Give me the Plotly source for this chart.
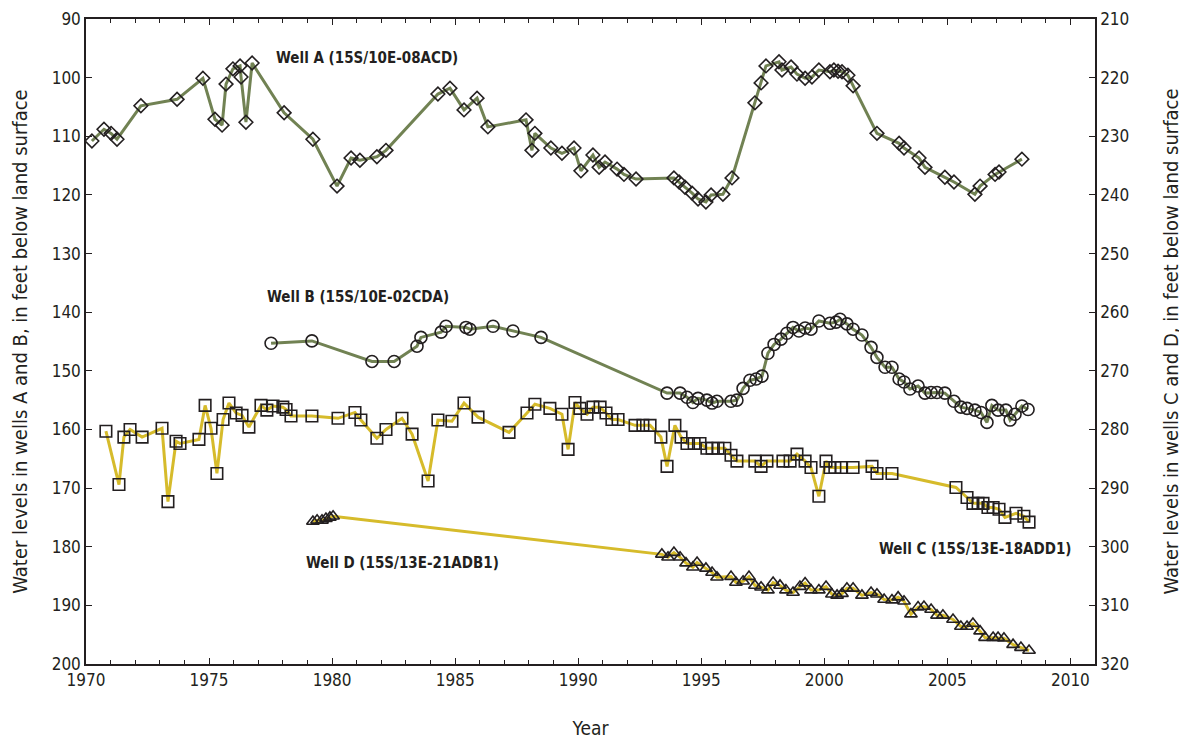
import plotly.graph_objects as go

# ---------------- Data ----------------
# Well A (left axis, ft below land surface)
well_a_year = [1970.24, 1970.73, 1971.02, 1971.26, 1972.23, 1973.70, 1974.75, 1975.24, 1975.53, 1975.69,
               1975.97, 1976.26, 1976.30, 1976.50, 1976.75, 1978.05, 1979.22, 1980.20, 1980.77, 1981.13,
               1981.82, 1982.19, 1984.30, 1984.79, 1985.36, 1985.89, 1986.33, 1987.88, 1988.12, 1988.24,
               1988.89, 1989.34, 1989.83, 1990.11, 1990.60, 1990.85, 1991.09, 1991.58, 1991.86, 1992.35,
               1993.89, 1994.10, 1994.34, 1994.63, 1994.87, 1995.19, 1995.40, 1995.88, 1996.25, 1997.18,
               1997.43, 1997.63, 1998.16, 1998.28, 1998.65, 1998.89, 1999.22, 1999.50, 1999.78, 2000.23,
               2000.39, 2000.56, 2000.72, 2000.96, 2001.17, 2002.14, 2003.04, 2003.24, 2003.85, 2004.09,
               2004.90, 2005.27, 2006.12, 2006.33, 2006.94, 2007.10, 2008.03]
well_a_level = [110.8, 108.8, 109.5, 110.5, 104.8, 103.7, 100.1, 107.1, 108.1, 101.1,
                98.5, 98.0, 99.9, 107.6, 97.5, 106.0, 110.5, 118.5, 113.7, 114.1,
                113.5, 112.4, 102.8, 101.8, 105.5, 103.5, 108.4, 107.2, 112.4, 109.5,
                112.0, 112.9, 112.0, 115.9, 113.2, 115.3, 114.4, 115.6, 116.5, 117.3,
                117.1, 117.8, 118.7, 119.7, 120.7, 121.2, 120.0, 119.9, 117.1, 104.3,
                100.9, 98.0, 97.3, 98.7, 98.2, 99.4, 100.1, 99.9, 98.7, 99.0,
                98.7, 98.9, 99.0, 99.6, 101.4, 109.5, 111.2, 112.0, 113.7, 115.3,
                117.0, 117.8, 119.9, 118.5, 116.5, 116.1, 113.9]

# Well B (left axis)
well_b_year = [1977.52, 1979.18, 1981.62, 1982.52, 1983.45, 1983.61, 1984.43, 1984.63, 1985.44, 1985.60,
               1986.54, 1987.35, 1988.49, 1993.61, 1994.14, 1994.42, 1994.66, 1994.87, 1995.23, 1995.44,
               1995.64, 1996.21, 1996.45, 1996.70, 1996.98, 1997.23, 1997.47, 1997.71, 1997.96, 1998.24,
               1998.48, 1998.73, 1998.97, 1999.22, 1999.46, 1999.78, 2000.23, 2000.48, 2000.64, 2000.92,
               2001.17, 2001.53, 2001.90, 2002.14, 2002.47, 2002.75, 2003.04, 2003.24, 2003.48, 2003.81,
               2004.09, 2004.34, 2004.58, 2004.90, 2005.27, 2005.55, 2005.80, 2006.12, 2006.37, 2006.61,
               2006.81, 2007.06, 2007.38, 2007.55, 2007.75, 2008.03, 2008.28]
well_b_level = [145.3, 144.9, 148.4, 148.4, 145.8, 144.3, 143.4, 142.4, 142.6, 142.9,
                142.4, 143.2, 144.3, 153.8, 153.8, 154.5, 155.4, 154.7, 155.0, 155.5,
                155.2, 155.2, 155.0, 153.0, 151.6, 151.4, 150.9, 147.0, 145.5, 144.6,
                143.6, 142.6, 143.2, 142.7, 142.9, 141.5, 141.9, 141.7, 141.2, 142.0,
                142.9, 143.9, 146.0, 147.7, 149.4, 149.4, 151.4, 151.9, 153.1, 152.6,
                153.8, 153.7, 153.7, 153.8, 155.2, 156.2, 156.4, 156.7, 157.1, 158.8,
                155.9, 156.7, 156.7, 158.4, 157.4, 156.0, 156.6]

# Well C (right axis)
well_c_year = [1970.81, 1971.34, 1971.54, 1971.79, 1972.28, 1973.09, 1973.33, 1973.66, 1973.82, 1974.59,
               1974.84, 1975.08, 1975.32, 1975.57, 1975.81, 1976.10, 1976.34, 1976.62, 1977.11, 1977.35,
               1977.60, 1978.00, 1978.13, 1978.33, 1979.18, 1980.24, 1980.93, 1981.17, 1981.82, 1982.19,
               1982.84, 1983.25, 1983.90, 1984.30, 1984.87, 1985.36, 1985.93, 1987.19, 1987.92, 1988.24,
               1988.85, 1989.34, 1989.59, 1989.87, 1990.07, 1990.36, 1990.60, 1990.89, 1991.13, 1991.37,
               1991.62, 1992.31, 1992.63, 1992.92, 1993.36, 1993.61, 1993.93, 1994.18, 1994.42, 1994.71,
               1994.95, 1995.23, 1995.44, 1995.68, 1995.96, 1996.21, 1996.45, 1997.18, 1997.43, 1997.67,
               1998.32, 1998.61, 1998.89, 1999.22, 1999.46, 1999.78, 2000.07, 2000.23, 2000.43, 2000.68,
               2001.17, 2001.94, 2002.14, 2002.75, 2005.35, 2005.80, 2006.04, 2006.25, 2006.45, 2006.65,
               2006.86, 2007.10, 2007.34, 2007.79, 2008.11, 2008.32]
well_c_level = [280.3, 289.4, 281.3, 280.0, 281.3, 279.8, 292.3, 282.0, 282.4, 281.7,
                275.9, 279.8, 287.5, 278.3, 275.5, 277.2, 277.6, 279.6, 275.9, 276.7,
                276.0, 276.2, 276.6, 277.7, 277.7, 278.1, 277.1, 278.4, 281.5, 280.0,
                278.1, 280.8, 288.8, 278.4, 278.6, 275.5, 277.9, 280.5, 277.2, 275.7,
                276.4, 277.4, 283.4, 275.4, 276.4, 277.4, 276.2, 276.2, 277.2, 278.3,
                278.3, 279.3, 279.3, 279.3, 281.3, 286.3, 279.3, 281.3, 282.4, 282.4,
                282.4, 283.2, 283.2, 283.2, 283.2, 284.4, 285.4, 285.4, 286.3, 285.4,
                285.4, 285.4, 284.2, 285.4, 286.5, 291.4, 285.4, 286.5, 286.5, 286.5,
                286.5, 286.3, 287.5, 287.5, 289.9, 291.6, 292.6, 292.6, 292.6, 293.3,
                293.3, 293.6, 295.0, 294.3, 294.8, 295.8]

# Well D (right axis)
well_d_year = [1979.22, 1979.39, 1979.59, 1979.75, 1979.91, 1980.04,
               1993.40, 1993.65, 1993.89, 1994.14, 1994.38, 1994.66, 1994.83, 1995.19, 1995.44, 1995.64,
               1996.21, 1996.41, 1996.70, 1996.94, 1997.18, 1997.43, 1997.71, 1997.92, 1998.20, 1998.44,
               1998.73, 1999.01, 1999.22, 1999.46, 1999.78, 2000.07, 2000.31, 2000.52, 2000.72, 2000.92,
               2001.17, 2001.53, 2001.90, 2002.14, 2002.43, 2002.75, 2003.00, 2003.24, 2003.52, 2003.81,
               2004.05, 2004.34, 2004.58, 2004.82, 2005.23, 2005.55, 2005.80, 2006.04, 2006.33, 2006.53,
               2006.86, 2007.06, 2007.30, 2007.67, 2007.99, 2008.32]
well_d_level = [295.7, 295.5, 295.5, 295.2, 295.0, 294.8,
                301.3, 301.8, 301.0, 301.8, 302.8, 303.5, 302.7, 303.7, 304.4, 305.2,
                305.1, 306.1, 305.9, 305.1, 306.6, 306.9, 307.4, 306.1, 306.6, 307.4,
                307.8, 306.8, 306.2, 307.4, 307.4, 306.8, 308.1, 308.3, 308.0, 307.1,
                307.1, 308.3, 307.8, 308.1, 309.0, 309.1, 308.6, 309.3, 311.5, 310.3,
                310.2, 310.7, 311.7, 311.7, 312.4, 313.6, 313.6, 313.1, 314.4, 315.5,
                315.5, 315.5, 315.6, 316.7, 317.2, 317.7]

x_tick_vals = [1970, 1975, 1980, 1985, 1990, 1995, 2000, 2005, 2010]
left_tick_vals = [90, 100, 110, 120, 130, 140, 150, 160, 170, 180, 190, 200]
right_tick_vals = [210, 220, 230, 240, 250, 260, 270, 280, 290, 300, 310, 320]

# ---------------- Styling ----------------
OLIVE = "#718253"
YELLOW = "#d6bb2b"
INK = "#231f20"
FONT = "Liberation Sans Narrow, Arial Narrow, DejaVu Sans Condensed, sans-serif"

fig = go.Figure()

def add_series(x, y, color, symbol, size, yaxis):
    fig.add_trace(go.Scatter(
        x=x, y=y, mode="lines+markers", yaxis=yaxis,
        line=dict(color=color, width=3),
        marker=dict(symbol=symbol, size=size, color="rgba(0,0,0,0)",
                    line=dict(color=INK, width=1.6)),
        showlegend=False, hoverinfo="x+y"))

add_series(well_a_year, well_a_level, OLIVE, "diamond", 10.5, "y")
add_series(well_b_year, well_b_level, OLIVE, "circle", 12, "y")
add_series(well_c_year, well_c_level, YELLOW, "square", 11.5, "y2")
add_series(well_d_year, well_d_level, YELLOW, "triangle-up", 11, "y2")

axis_common = dict(showline=True, linecolor=INK, linewidth=1.5, ticks="inside", automargin=False,
                   tickcolor=INK, tickwidth=1.2, ticklen=6, showgrid=False, zeroline=False,
                   tickfont=dict(family=FONT, size=17, color=INK))

fig.update_layout(
    width=1187, height=739,
    margin=dict(l=78, r=100, t=11, b=83),
    plot_bgcolor="white", paper_bgcolor="white",
    font=dict(family=FONT, color=INK),
    xaxis=dict(**axis_common, range=[1970, 2011], tickvals=x_tick_vals, mirror="ticks",
               minor=dict(dtick=1, tick0=1970, ticks="inside", ticklen=4, tickcolor=INK, tickwidth=1),
               title=dict(text="Year", font=dict(family=FONT, size=19, color=INK), standoff=33)),
    yaxis=dict(**axis_common, range=[200, 90], tickvals=left_tick_vals,
               title=dict(text="Water levels in wells A and B, in feet below land surface",
                          font=dict(family=FONT, size=20, color=INK), standoff=23)),
    yaxis2=dict(**axis_common, range=[320, 210], tickvals=right_tick_vals, overlaying="y", side="right",
                title=dict(text="Water levels in wells C and D, in feet below land surface",
                           font=dict(family=FONT, size=20, color=INK), standoff=36)),
)

label_font = dict(family=FONT, size=15, color=INK)
for text, x, y in [("<b>Well A (15S/10E-08ACD)</b>", 1981.42, 96.7),
                   ("<b>Well B (15S/10E-02CDA)</b>", 1981.05, 137.4),
                   ("<b>Well C (15S/13E-18ADD1)</b>", 2006.12, 180.4),
                   ("<b>Well D (15S/13E-21ADB1)</b>", 1982.88, 182.8)]:
    fig.add_annotation(text=text, x=x, y=y, xref="x", yref="y", showarrow=False, font=label_font)

fig.write_html("out.html")
